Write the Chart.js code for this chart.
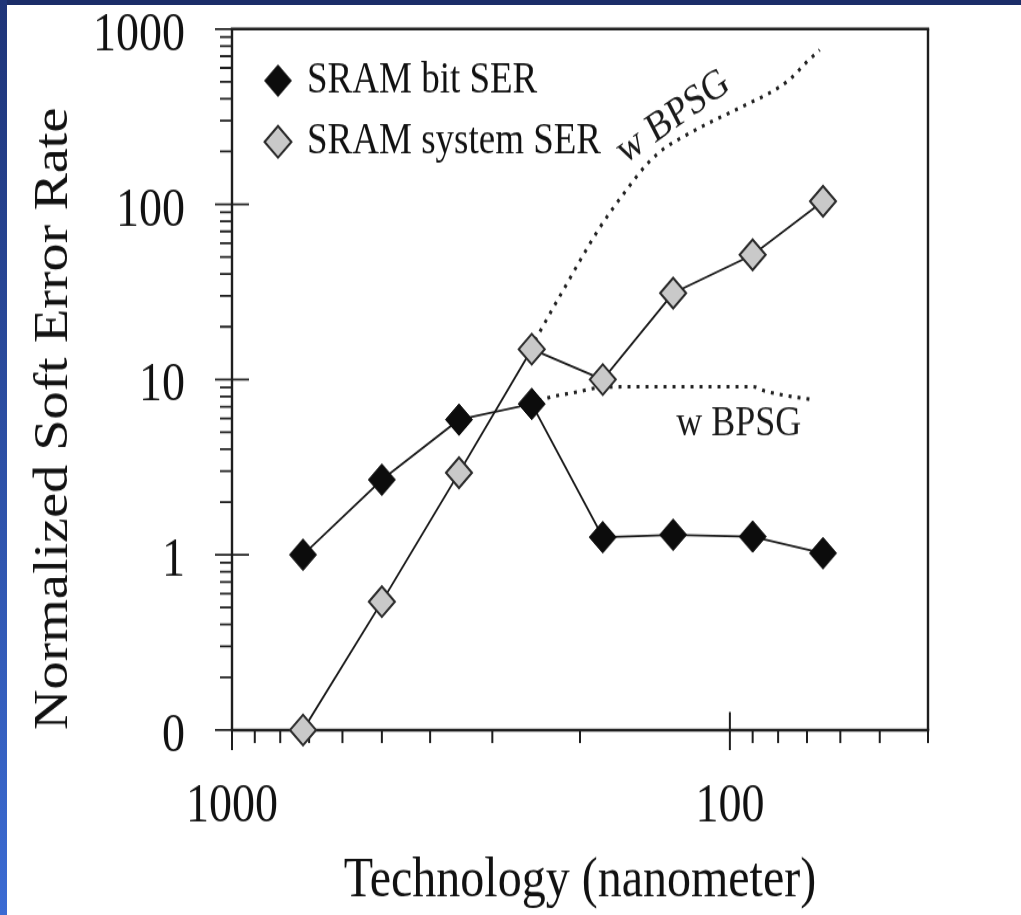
<!DOCTYPE html>
<html><head><meta charset="utf-8">
<script src="https://cdn.jsdelivr.net/npm/chart.js@4/dist/chart.umd.min.js"></script>
<style>
html,body{margin:0;padding:0;background:#fff;width:1021px;height:915px;overflow:hidden;}
#topband{position:absolute;left:0;top:0;width:1021px;height:5px;background:#1b2d68;z-index:2;}
#leftband{position:absolute;left:0;top:0;width:7px;height:915px;background:linear-gradient(#1e3478,#3b6bd3);z-index:2;}
#wrap{position:absolute;left:0;top:0;width:1021px;height:782px;transform:scaleY(1.170077);transform-origin:0 0;}
</style></head><body>
<div id="topband"></div><div id="leftband"></div>
<div id="wrap"><canvas id="c" width="1021" height="782"></canvas></div>
<script>
// ---- data ----
const techNodes = [720, 500, 350, 250, 180, 130, 90, 65];
const bitSER = [1.0, 2.68, 5.9, 7.26, 1.26, 1.30, 1.27, 1.02];
const systemSER = [0.1, 0.54, 2.94, 14.9, 10.0, 31.1, 51.5, 104];
const bpsgSystemNodes = [252, 218, 184, 163, 146, 135, 124, 110, 100, 91, 83, 76, 70, 66];
const bpsgSystemSER = [14.9, 31, 71, 116, 172, 210, 243, 292, 333, 380, 433, 513, 650, 760];
const bpsgBitNodes = [252, 232, 202, 184, 153, 135, 90, 85, 79, 68];
const bpsgBitSER = [7.26, 7.87, 8.5, 8.97, 9.1, 9.1, 9.1, 8.6, 8.2, 7.66];
const seriesNames = ['SRAM bit SER', 'SRAM system SER'];
const xTickValues = [1000, 100];
const xTickLabels = ['1000', '100'];
const xMinorTicks = [900, 800, 700, 600, 500, 400, 300, 200, 90, 80, 70, 60, 50, 40];
const yTickValues = [0.1, 1, 10, 100, 1000];
const yTickLabels = ['0', '1', '10', '100', '1000'];
const yMinorTicks = [0.2, 0.3, 0.4, 0.5, 0.6, 0.7, 0.8, 0.9, 2, 3, 4, 5, 6, 7, 8, 9,
                     20, 30, 40, 50, 60, 70, 80, 90, 200, 300, 400, 500, 600, 700, 800, 900];
const xAxisTitle = 'Technology (nanometer)';
const yAxisTitle = 'Normalized Soft Error Rate';
const annotationTexts = ['w BPSG', 'w BPSG'];
const annotationNodes = [130, 96];
const annotationSER = [314, 5.6];
const annotationAngles = [-31, 0];

// ---- chart ----
Chart.defaults.font.family = "'Liberation Serif', 'Times New Roman', serif";
Chart.defaults.color = '#111';

const toPts = (xs, ys) => xs.map((v, i) => ({x: v, y: ys[i]}));

const framePlugin = {
  id: 'frame',
  beforeDraw(chart) {
    const a = chart.chartArea;
    if (chart.legend) { chart.legend.left = a.left + 20.3; chart.legend.top = a.top + 10.5; }
  },
  beforeDatasetsDraw(chart) {
    const {ctx, chartArea: a, scales: {x, y}} = chart;
    ctx.save();
    ctx.strokeStyle = '#1e1e1e';
    ctx.lineCap = 'butt';
    ctx.lineWidth = 2.5;
    ctx.beginPath();
    ctx.moveTo(a.left - 1.2, a.top); ctx.lineTo(a.right + 1.2, a.top);
    ctx.moveTo(a.left - 1.2, a.bottom); ctx.lineTo(a.right + 1.2, a.bottom);
    ctx.stroke();
    ctx.lineWidth = 2.4;
    ctx.beginPath();
    ctx.moveTo(a.left, a.top); ctx.lineTo(a.left, a.bottom);
    ctx.moveTo(a.right, a.top); ctx.lineTo(a.right, a.bottom);
    ctx.stroke();
    ctx.lineWidth = 1.8;
    ctx.beginPath();
    yTickValues.forEach(v => { const p = y.getPixelForValue(v); ctx.moveTo(a.left - 17, p); ctx.lineTo(a.left + 17, p); });
    yMinorTicks.forEach(v => { const p = y.getPixelForValue(v); ctx.moveTo(a.left - 12, p); ctx.lineTo(a.left, p); });
    ctx.stroke();
    ctx.lineWidth = 2;
    ctx.beginPath();
    xTickValues.forEach(v => { const p = x.getPixelForValue(v); ctx.moveTo(p, a.bottom - 15.5); ctx.lineTo(p, a.bottom + 17); });
    xMinorTicks.forEach(v => { const p = x.getPixelForValue(v); ctx.moveTo(p, a.bottom); ctx.lineTo(p, a.bottom + 11); });
    ctx.stroke();
    ctx.restore();
  },
  afterDatasetsDraw(chart) {
    const {ctx, scales: {x, y}} = chart;
    ctx.save();
    ctx.fillStyle = '#1a1a1a';
    ctx.font = "36px 'Liberation Serif', 'Times New Roman', serif";
    ctx.textAlign = 'center';
    ctx.textBaseline = 'middle';
    annotationTexts.forEach((t, i) => {
      ctx.save();
      ctx.translate(x.getPixelForValue(annotationNodes[i]), y.getPixelForValue(annotationSER[i]));
      ctx.rotate(annotationAngles[i] * Math.PI / 180);
      ctx.fillText(t, 0, 0);
      ctx.restore();
    });
    ctx.restore();
  }
};

new Chart(document.getElementById('c'), {
  type: 'line',
  data: {
    datasets: [
      {
        label: seriesNames[0],
        data: toPts(techNodes, bitSER),
        borderColor: '#1a1a1a', borderWidth: 1.8,
        pointStyle: 'rectRot', pointRadius: 13.5, pointBorderWidth: 1,
        pointBackgroundColor: '#0c0c0c', pointBorderColor: '#0c0c0c',
        clip: false, order: 0
      },
      {
        label: seriesNames[1],
        data: toPts(techNodes, systemSER),
        borderColor: '#1a1a1a', borderWidth: 1.8,
        pointStyle: 'rectRot', pointRadius: 13, pointBorderWidth: 2,
        pointBackgroundColor: '#c9c9c9', pointBorderColor: '#2a2a2a',
        clip: false, order: 1
      },
      {
        label: 'bpsg-system',
        data: toPts(bpsgSystemNodes, bpsgSystemSER),
        borderColor: '#222', borderWidth: 3.1, borderDash: [3, 6],
        pointRadius: 0, cubicInterpolationMode: 'monotone', order: 2
      },
      {
        label: 'bpsg-bit',
        data: toPts(bpsgBitNodes, bpsgBitSER),
        borderColor: '#222', borderWidth: 3.1, borderDash: [3, 6],
        pointRadius: 0, cubicInterpolationMode: 'monotone', order: 3
      }
    ]
  },
  options: {
    responsive: false,
    animation: false,
    events: [],
    layout: { padding: { left: 0, top: 24.78, right: 93, bottom: 0 } },
    plugins: {
      tooltip: { enabled: false },
      legend: {
        position: 'chartArea',
        align: 'start',
        labels: {
          font: { size: 37 },
          color: '#111',
          usePointStyle: true,
          boxWidth: 21,
          boxHeight: 19,
          padding: 15.2,
          filter: (item) => item.datasetIndex < 2
        }
      }
    },
    scales: {
      x: {
        type: 'logarithmic',
        reverse: true,
        min: 40, max: 1000,
        grid: { display: false, drawTicks: true, tickLength: 43 },
        border: { display: false },
        afterBuildTicks: (s) => { s.ticks = xTickValues.map(v => ({value: v})); },
        afterFit: (s) => { s.height = 782 - 623.89; },
        ticks: {
          autoSkip: false, maxRotation: 0,
          padding: 0,
          font: { size: 46, lineHeight: 1 },
          color: '#111',
          callback: (v) => { const i = xTickValues.indexOf(v); return i >= 0 ? xTickLabels[i] : ''; }
        },
        title: { display: true, text: xAxisTitle, font: { size: 48 }, color: '#111', padding: { top: 0, bottom: 0 } }
      },
      y: {
        type: 'logarithmic',
        min: 0.1, max: 1000,
        grid: { display: false, drawTicks: true, tickLength: 47 },
        border: { display: false },
        afterBuildTicks: (s) => { s.ticks = yTickValues.map(v => ({value: v})); },
        afterFit: (s) => { s.width = 232; },
        ticks: {
          autoSkip: false,
          padding: 0,
          labelOffset: 6,
          font: { size: 46, lineHeight: 1 },
          color: '#111',
          callback: (v) => { const i = yTickValues.indexOf(v); return i >= 0 ? yTickLabels[i] : ''; }
        },
        title: { display: true, text: yAxisTitle, align: 'start', font: { size: 48 }, color: '#111', padding: { top: 25.3, bottom: 0 } }
      }
    }
  },
  plugins: [framePlugin]
});
</script>
</body></html>
